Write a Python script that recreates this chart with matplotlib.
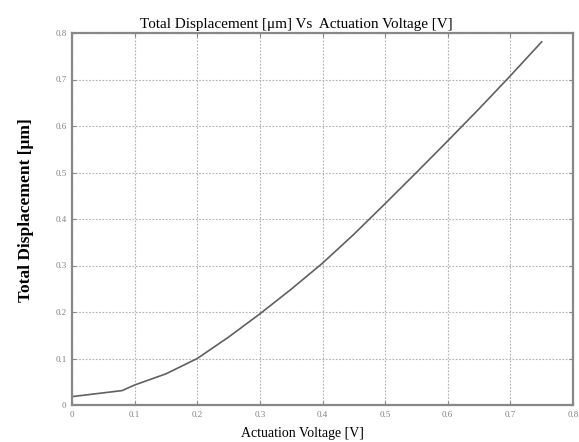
import matplotlib
matplotlib.use("Agg")
import matplotlib.pyplot as plt
import numpy as np

voltage = [0.0, 0.08, 0.10, 0.15, 0.20, 0.25, 0.30, 0.35, 0.40, 0.45, 0.50, 0.55, 0.60, 0.65, 0.70, 0.75]
displacement = [0.018, 0.031, 0.043, 0.067, 0.100, 0.146, 0.196, 0.249, 0.305, 0.367, 0.433, 0.500, 0.568, 0.637, 0.708, 0.781]
xticks = [0, 0.1, 0.2, 0.3, 0.4, 0.5, 0.6, 0.7, 0.8]
yticks = [0, 0.1, 0.2, 0.3, 0.4, 0.5, 0.6, 0.7, 0.8]
xtick_labels = ["0", "0.1", "0.2", "0.3", "0.4", "0.5", "0.6", "0.7", "0.8"]
ytick_labels = ["0", "0.1", "0.2", "0.3", "0.4", "0.5", "0.6", "0.7", "0.8"]

W, H = 579, 442
fig = plt.figure(figsize=(W/100, H/100), dpi=100)
ax = fig.add_axes([72/W, 37/H, (573-72)/W, (405-33)/H])

ax.plot(voltage, displacement, color="#606060", lw=1.2)
ax.set_xlim(0, 0.8)
ax.set_ylim(0, 0.8)
ax.set_xticks(xticks)
ax.set_xticklabels(xtick_labels)
ax.set_yticks(yticks)
ax.set_yticklabels(ytick_labels)
ax.grid(True, color="#b0b0b0", linestyle=(0, (1.5, 1.5)), lw=0.8)
ax.tick_params(direction="in", length=3, color="#888888", labelsize=6.5,
               labelcolor="#808080", top=True, right=True, pad=4)
for lab in ax.get_xticklabels() + ax.get_yticklabels():
    lab.set_family("Liberation Serif")
for s in ax.spines.values():
    s.set_color("#888888")
    s.set_linewidth(1.6)

fig.text(296/W, 1 - 28/H, "Total Displacement [\u03bcm] Vs  Actuation Voltage [V]",
         family="Liberation Serif", fontsize=10.9, ha="center", va="baseline")
fig.text(302/W, 1 - 437.5/H, "Actuation Voltage [V]", family="Liberation Serif",
         fontsize=10, ha="center", va="baseline")
fig.text(26/W, 1 - 210/H, "Total Displacement [\u03bcm]", family="Liberation Serif",
         fontsize=12.5, fontweight="bold", rotation=90, ha="center", va="center")

fig.savefig("out.png", dpi=100, facecolor="white")
